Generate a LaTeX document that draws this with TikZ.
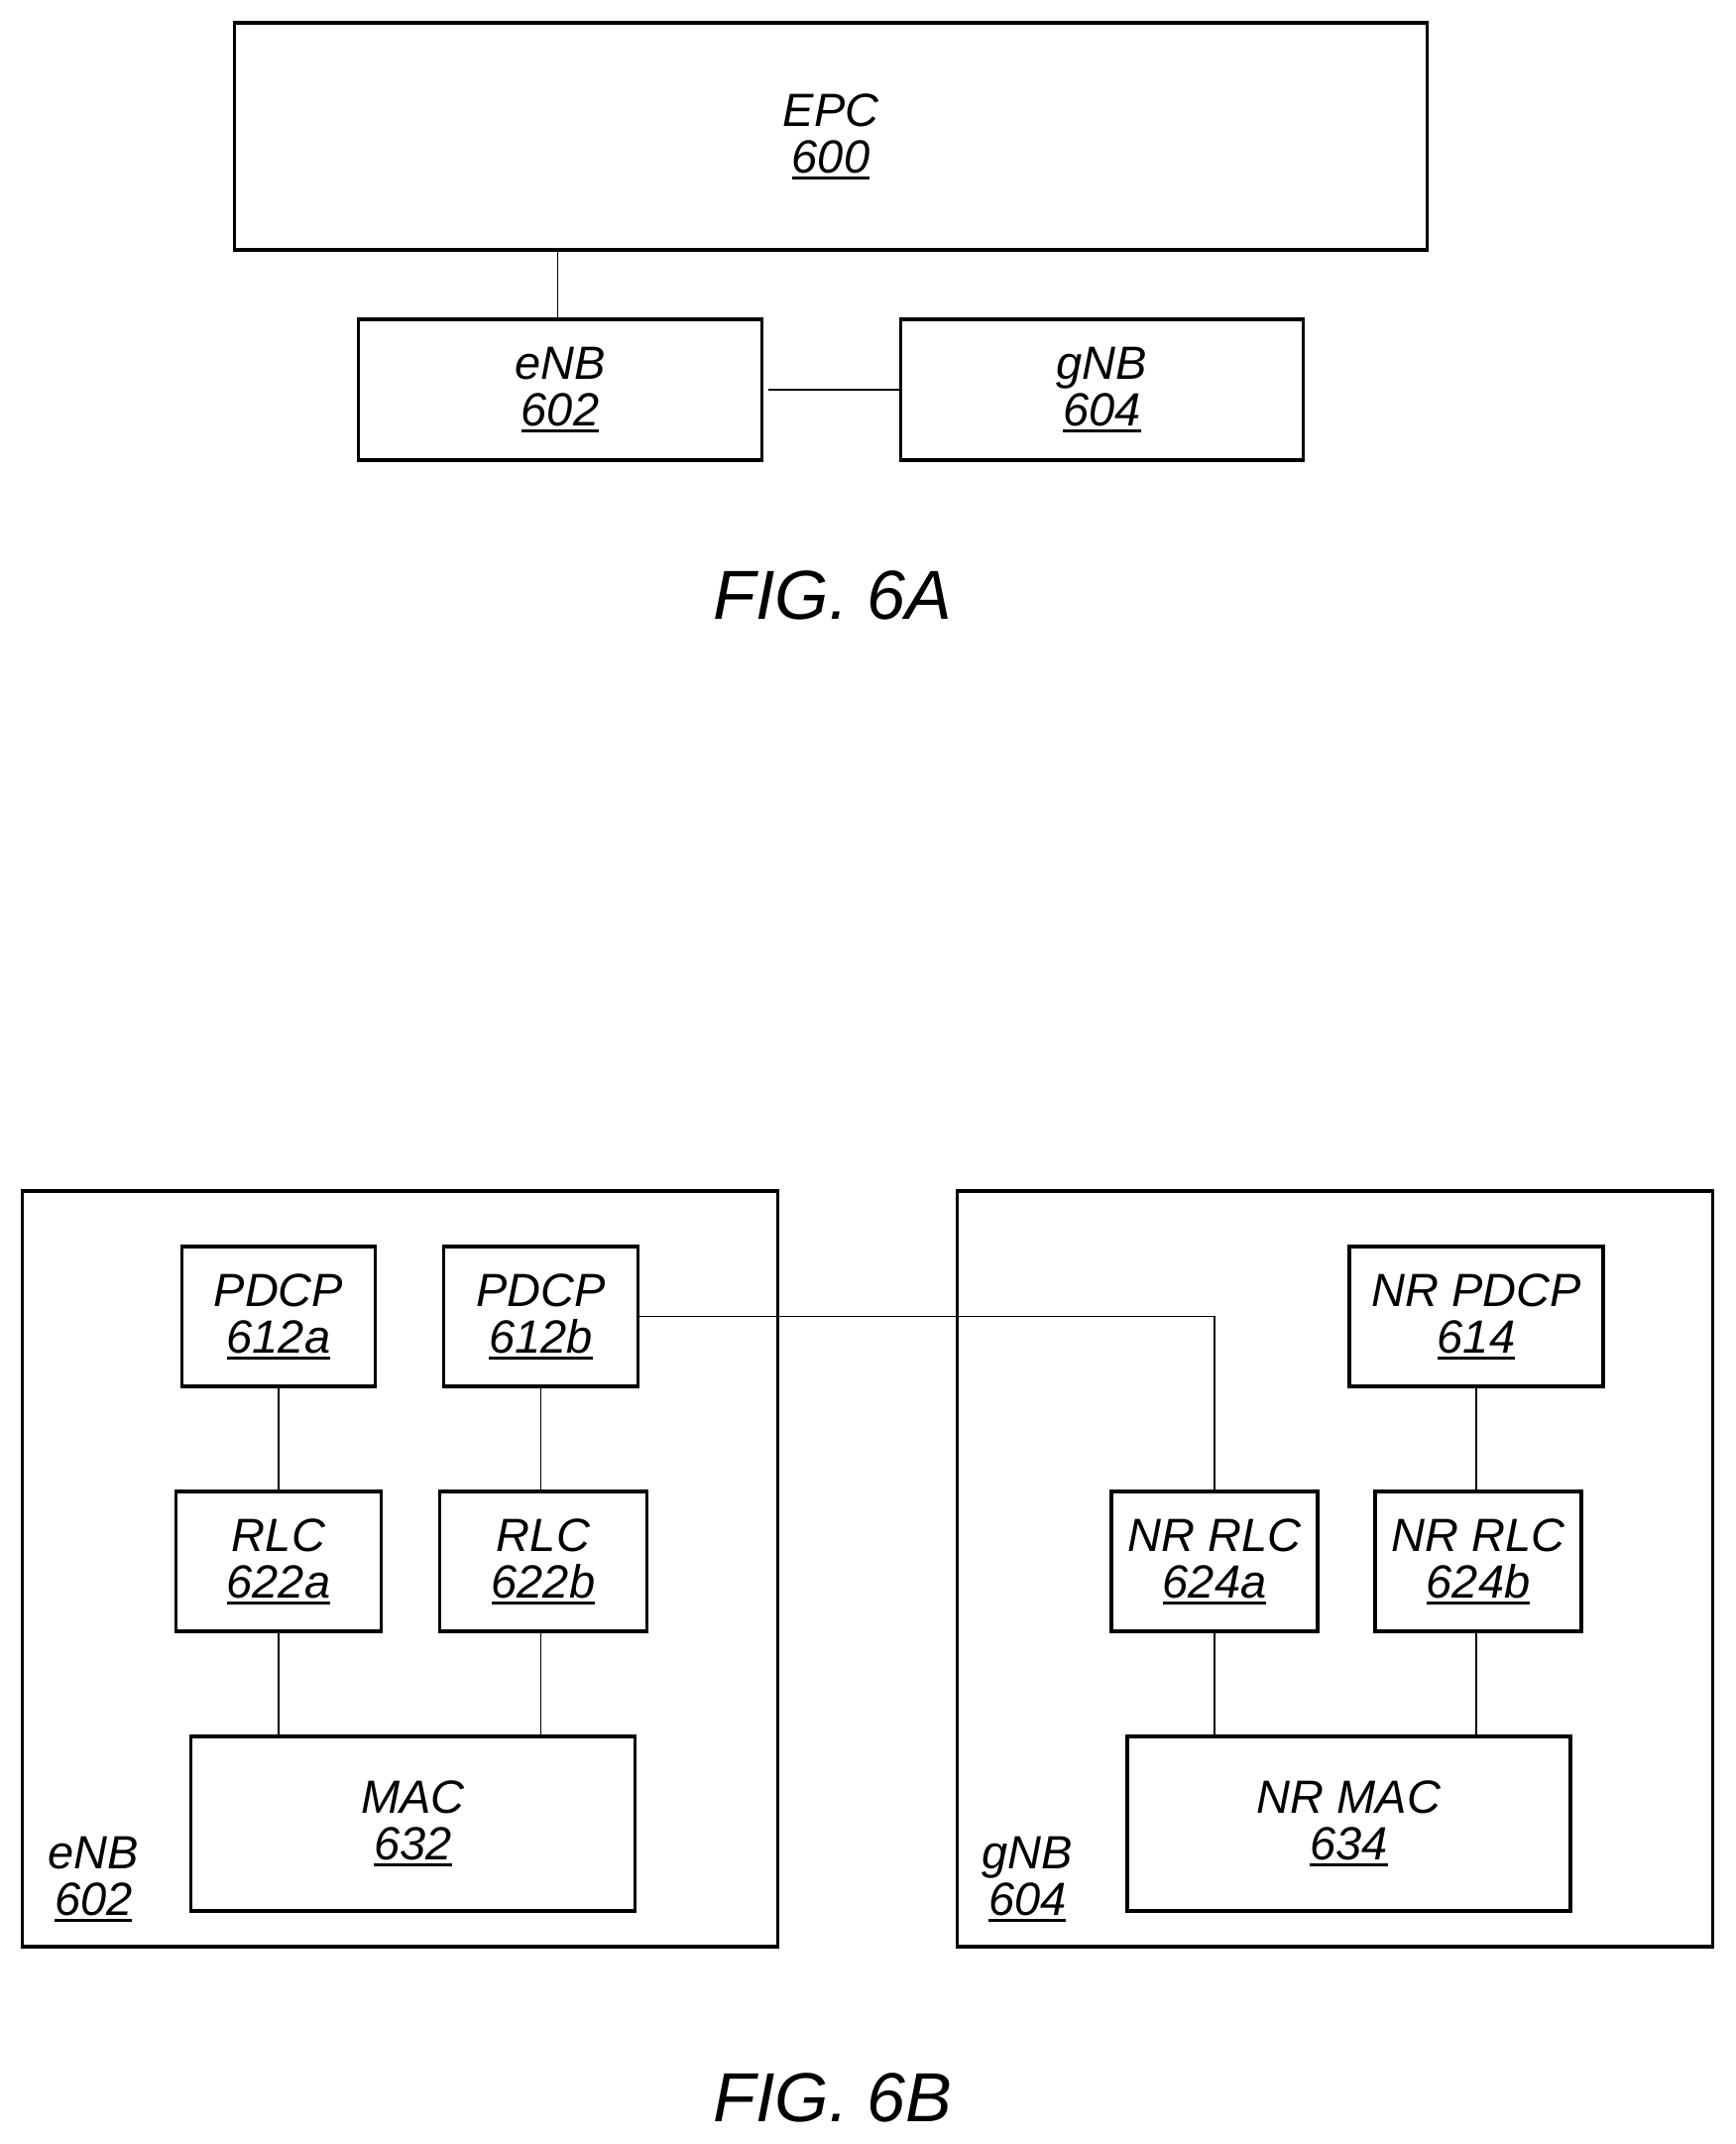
\documentclass[tikz,border=0pt]{standalone}
\usepackage{fontspec}
\setmainfont{Liberation Sans}
\usepackage{tikz}
\usetikzlibrary{positioning}
\newcommand{\refnum}[1]{\setbox0\hbox{#1}\hbox{\rlap{\vrule width\wd0 height-1.8pt depth 3.1pt}\box0}}

\begin{document}
\begin{tikzpicture}[node distance=53pt]
	\tikzstyle{item}
	  =[draw, rectangle, line width=1.7pt, outer sep=0pt, inner sep=0pt,
	  minimum height=70.5pt, align=center,
	  font=\itshape\fontsize{23.5}{23.5}\selectfont]
	\tikzstyle{frame}
	  =[draw, rectangle, line width=1.7pt, outer sep=0pt, inner sep=0pt,
	  minimum width=381pt, minimum height=381pt]
	\tikzstyle{tag}
	  =[inner sep=0pt, outer sep=0pt, align=center,
	  font=\itshape\fontsize{23.5}{23.5}\selectfont]
	\tikzstyle{caption}
	  =[inner sep=0pt, anchor=base,
	  font=\itshape\fontsize{35}{36}\selectfont]
	\tikzstyle{link}
	  =[draw, line width=0.7pt]

	\useasboundingbox (0,0) rectangle (875pt,-1081pt);

	% FIG. 6A
	\node[item,minimum width=601.5pt,minimum height=114.5pt] (EPC)
	  at (419pt,-68.75pt) {EPC\\\refnum{600}};
	\node[item,minimum width=203.5pt,minimum height=71pt] (eNB)
	  [below right=35pt and 62.5pt of EPC.south west] {eNB\\\refnum{602}};
	\node[item,minimum width=203pt,minimum height=71pt] (gNB)
	  [right=70pt of eNB] {gNB\\\refnum{604}};
	\node[caption] (figA)
	  at (420pt,-312pt) {FIG. 6A};

	% FIG. 6B, left side
	\node[frame] (enbBox)
	  at (201.75pt,-791pt) {};
	\node[tag] (enbTag)
	  [above right=12.5pt and 13pt of enbBox.south west] {eNB\\\refnum{602}};
	\node[item,minimum width=97.5pt] (pdcpA)
	  [below right=28pt and 80.5pt of enbBox.north west] {PDCP\\\refnum{612a}};
	\node[item,minimum width=98pt] (pdcpB)
	  [right=34.5pt of pdcpA] {PDCP\\\refnum{612b}};
	\node[item,minimum width=103.5pt] (rlcA)
	  [below=of pdcpA] {RLC\\\refnum{622a}};
	\node[item,minimum width=104.5pt,xshift=1.25pt] (rlcB)
	  [below=of pdcpB] {RLC\\\refnum{622b}};
	\node[item,minimum width=224pt,minimum height=88pt] (mac)
	  [below right=53pt and 7.5pt of rlcA.south west] {MAC\\\refnum{632}};

	% FIG. 6B, right side
	\node[frame] (gnbBox)
	  [right=90.5pt of enbBox] {};
	\node[tag] (gnbTag)
	  [above right=12.5pt and 12.5pt of gnbBox.south west] {gNB\\\refnum{604}};
	\node[item,minimum width=128pt] (nrPdcp)
	  [below right=28pt and 197.75pt of gnbBox.north west] {NR PDCP\\\refnum{614}};
	\node[item,minimum width=104pt,xshift=1pt] (nrRlcB)
	  [below=of nrPdcp] {NR RLC\\\refnum{624b}};
	\node[item,minimum width=104pt] (nrRlcA)
	  [left=29pt of nrRlcB] {NR RLC\\\refnum{624a}};
	\node[item,minimum width=223.5pt,minimum height=88pt] (nrMac)
	  [below right=53pt and 8pt of nrRlcA.south west] {NR MAC\\\refnum{634}};
	\node[caption] (figB)
	  at (420pt,-1069.5pt) {FIG. 6B};

	% connectors
	\draw[link,transform canvas={xshift=-1.2pt}] (EPC.south -| eNB.north) -- (eNB.north);
	\draw[link,shorten <=3pt] (eNB.east) -- (gNB.west);
	\draw[link] (pdcpA.south) -- (rlcA.north);
	\draw[link] (pdcpB.south) -- (pdcpB.south |- rlcB.north);
	\draw[link] (rlcA.south) -- (rlcA.south |- mac.north);
	\draw[link] (pdcpB.south |- rlcB.south) -- (pdcpB.south |- mac.north);
	\draw[link] (pdcpB.east) -| (nrRlcA.north);
	\draw[link] (nrPdcp.south) -- (nrPdcp.south |- nrRlcB.north);
	\draw[link] (nrRlcA.south) -- (nrRlcA.south |- nrMac.north);
	\draw[link] (nrPdcp.south |- nrRlcB.south) -- (nrPdcp.south |- nrMac.north);
\end{tikzpicture}
\end{document}
